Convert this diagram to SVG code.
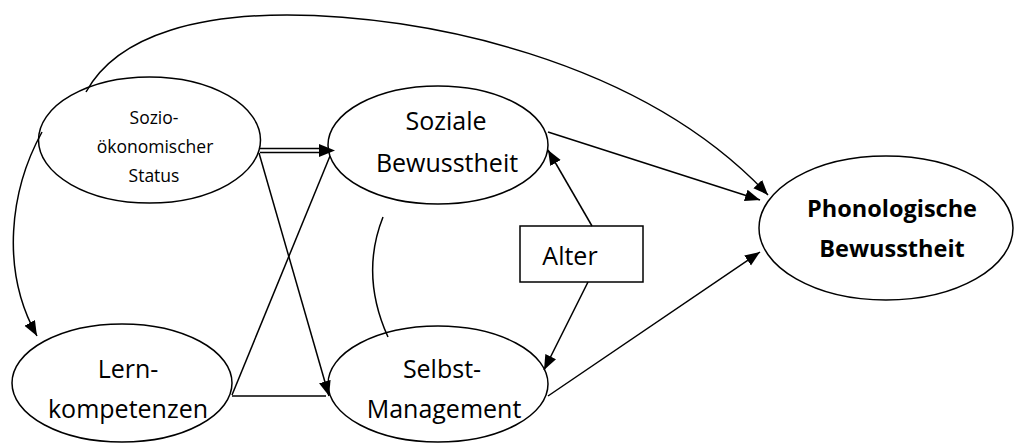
<svg xmlns="http://www.w3.org/2000/svg" width="1016" height="443" viewBox="0 0 1016 443">
  <style>
    .node { fill: #ffffff; stroke: #000000; stroke-width: 1.5; }
    .edge { fill: none; stroke: #000000; stroke-width: 1.5; }
    .lbl { font-family: "Open Sans", "Noto Sans", sans-serif; font-size: 25px; fill: #000000; text-anchor: middle; }
    .small { font-size: 17.5px; }
    .bold { font-weight: bold; font-size: 23.5px; }
  </style>
  <defs>
    <marker id="arrow" markerUnits="userSpaceOnUse" markerWidth="16" markerHeight="13" refX="15" refY="6" orient="auto">
      <path d="M0,0 L15,6 L0,12 z" fill="#000000"/>
    </marker>
  </defs>
  <rect width="1016" height="443" fill="#ffffff"/>

  <!-- nodes -->
  <g id="node-sozio">
    <ellipse class="node" cx="149.5" cy="140" rx="111" ry="63"/>
    <text class="lbl small" x="154" y="124">Sozio-</text>
    <text class="lbl small" x="155" y="153">ökonomischer</text>
    <text class="lbl small" x="154" y="182">Status</text>
  </g>
  <g id="node-soziale">
    <ellipse class="node" cx="438" cy="145" rx="110" ry="59"/>
    <text class="lbl" x="446" y="130">Soziale</text>
    <text class="lbl" x="447" y="172">Bewusstheit</text>
  </g>
  <g id="node-lern">
    <ellipse class="node" cx="122" cy="383" rx="110" ry="59"/>
    <text class="lbl" x="128" y="378">Lern-</text>
    <text class="lbl" x="128" y="418">kompetenzen</text>
  </g>
  <g id="node-selbst">
    <ellipse class="node" cx="438" cy="384" rx="110" ry="58"/>
    <text class="lbl" x="442" y="378">Selbst-</text>
    <text class="lbl" x="444" y="418">Management</text>
  </g>
  <g id="node-phono">
    <ellipse class="node" cx="886" cy="228" rx="127" ry="72"/>
    <text class="lbl bold" x="892" y="217">Phonologische</text>
    <text class="lbl bold" x="892" y="257">Bewusstheit</text>
  </g>
  <g id="node-alter">
    <rect class="node" x="520" y="226" width="123" height="56"/>
    <text class="lbl" x="570" y="265">Alter</text>
  </g>

  <!-- connectors -->
  <g id="connectors">
    <!-- Sozio -> Phonologische (top arc) -->
    <path class="edge" d="M86,92 C120,30 210,15 287,15 C420,15 640,58 768,195" marker-end="url(#arrow)"/>
    <!-- Sozio -> Lern (left arc) -->
    <path class="edge" d="M42,132 C10,190 0,270 37,336" marker-end="url(#arrow)"/>
    <!-- Sozio => Soziale (double line) -->
    <line class="edge" x1="260" y1="148.5" x2="322" y2="148.5"/>
    <line class="edge" x1="260" y1="152.5" x2="322" y2="152.5"/>
    <path d="M319,144 L335,150.5 L319,157 z" fill="#000000"/>
    <!-- Sozio -> Selbst -->
    <line class="edge" x1="259" y1="153" x2="329" y2="396" marker-end="url(#arrow)"/>
    <!-- Lern -> Soziale -->
    <line class="edge" x1="232" y1="395" x2="330" y2="156"/>
    <!-- Lern - Selbst -->
    <line class="edge" x1="232" y1="396" x2="326" y2="396"/>
    <!-- Soziale ~ Selbst correlation arc -->
    <path class="edge" d="M383,217 Q360,275 388,337"/>
    <!-- Soziale -> Phonologische -->
    <line class="edge" x1="548" y1="132" x2="760" y2="200" marker-end="url(#arrow)"/>
    <!-- Alter -> Soziale -->
    <line class="edge" x1="592" y1="226" x2="548" y2="150" marker-end="url(#arrow)"/>
    <!-- Alter -> Selbst -->
    <line class="edge" x1="588" y1="282" x2="544" y2="370" marker-end="url(#arrow)"/>
    <!-- Selbst -> Phonologische -->
    <line class="edge" x1="548" y1="396" x2="760" y2="252" marker-end="url(#arrow)"/>
  </g>
</svg>
